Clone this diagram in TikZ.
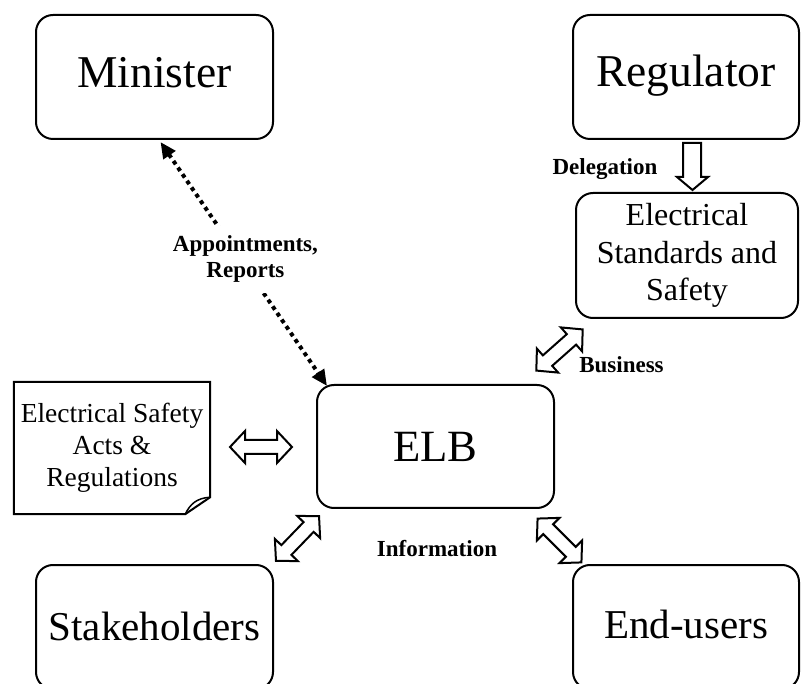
\documentclass[tikz,border=0pt]{standalone}
\usepackage{fontspec}
\setmainfont{Liberation Serif}
\usetikzlibrary{arrows.meta}
\tikzset{
 box/.style={draw, line width=2pt, rounded corners=17pt, inner sep=0pt, align=center},
 lbl/.style={font=\bfseries\fontsize{23}{26}\selectfont, inner sep=0pt, align=center},
 blk/.style={draw, line width=2pt, fill=white, line join=miter},
 dotarr/.style={line width=4pt, dash pattern=on 4pt off 4pt,
   {Triangle[length=16pt,width=14pt]}-{Triangle[length=16pt,width=14pt]}},
 dblarr/.pic={\draw[blk] (-31,0) -- (-16,16) -- (-16,7) -- (16,7) -- (16,16) -- (31,0)
   -- (16,-16) -- (16,-7) -- (-16,-7) -- (-16,-16) -- cycle;}
}
\begin{document}
\begin{tikzpicture}[x=1pt,y=-1pt]
\useasboundingbox (0,0) rectangle (801,684);
% boxes
\node[box, minimum width=237pt, minimum height=124pt, font=\fontsize{45.5}{50}\selectfont,
  text height=30pt, text depth=8pt] (min) at (154.5,77) {Minister};
\node[box, minimum width=226pt, minimum height=124pt, font=\fontsize{45.5}{50}\selectfont,
  text height=30pt, text depth=10pt] (reg) at (686,77) {Regulator};
\node[box, minimum width=222pt, minimum height=125pt, font=\fontsize{32}{37.5}\selectfont]
  (ess) at (687,255.5) {Electrical\\Standards and\\Safety};
\node[box, minimum width=237pt, minimum height=123pt, font=\fontsize{44.7}{50}\selectfont,
  text height=31pt, text depth=0pt] (elb) at (435.5,446.5) {ELB};
\node[box, minimum width=237pt, minimum height=124pt, font=\fontsize{41}{46}\selectfont,
  text height=28pt, text depth=2pt] (stk) at (154.5,627) {Stakeholders};
\node[box, minimum width=226pt, minimum height=124pt, font=\fontsize{41}{46}\selectfont,
  text height=28pt, text depth=6pt] (end) at (686,627) {End-users};
% document with folded corner
\node[font=\fontsize{27.5}{32}\selectfont, align=center, minimum width=196pt,
  minimum height=132pt, inner sep=0pt] (acts) at (112,448) {Electrical Safety\\Acts \&\\Regulations};
\coordinate (fb) at ([xshift=-25pt]acts.south east);
\coordinate (fr) at ([yshift=17pt]acts.south east);
\draw[line width=2pt, line join=miter] (acts.north west) -- (acts.north east) -- (fr) -- (fb)
  -- (acts.south west) -- cycle;
\draw[line width=1.5pt] (fb) .. controls +(5,-10) and +(-14,1) .. (fr);
% dotted connector Minister <-> ELB
\draw[dotarr] ([xshift=6pt,yshift=-2pt]min.south) --
  node[lbl, fill=white, inner sep=10pt, pos=0.48, xshift=5pt] (appt) {Appointments,\\Reports}
  ([xshift=11pt,yshift=-2pt]elb.north west);
% delegation arrow
\draw[blk] (683,143) -- (701,143) -- (701,177) -- (708,177) -- (692.5,190) -- (677,177)
  -- (683,177) -- cycle;
\node[lbl, anchor=base] (deleg) at (605,175) {Delegation};
% double block arrows
\pic (actsarr) at (261,447) {dblarr};
\pic[rotate=41.6] (bizarr) at (559.5,350) {dblarr};
\pic[rotate=46] (infol) at (297.5,538.5) {dblarr};
\pic[rotate=-45] (infor) at (559.5,540.5) {dblarr};
\node[lbl, anchor=base] (biz) at (621.5,373) {Business};
\node[lbl, anchor=base] (info) at (437,556) {Information};
\end{tikzpicture}
\end{document}
